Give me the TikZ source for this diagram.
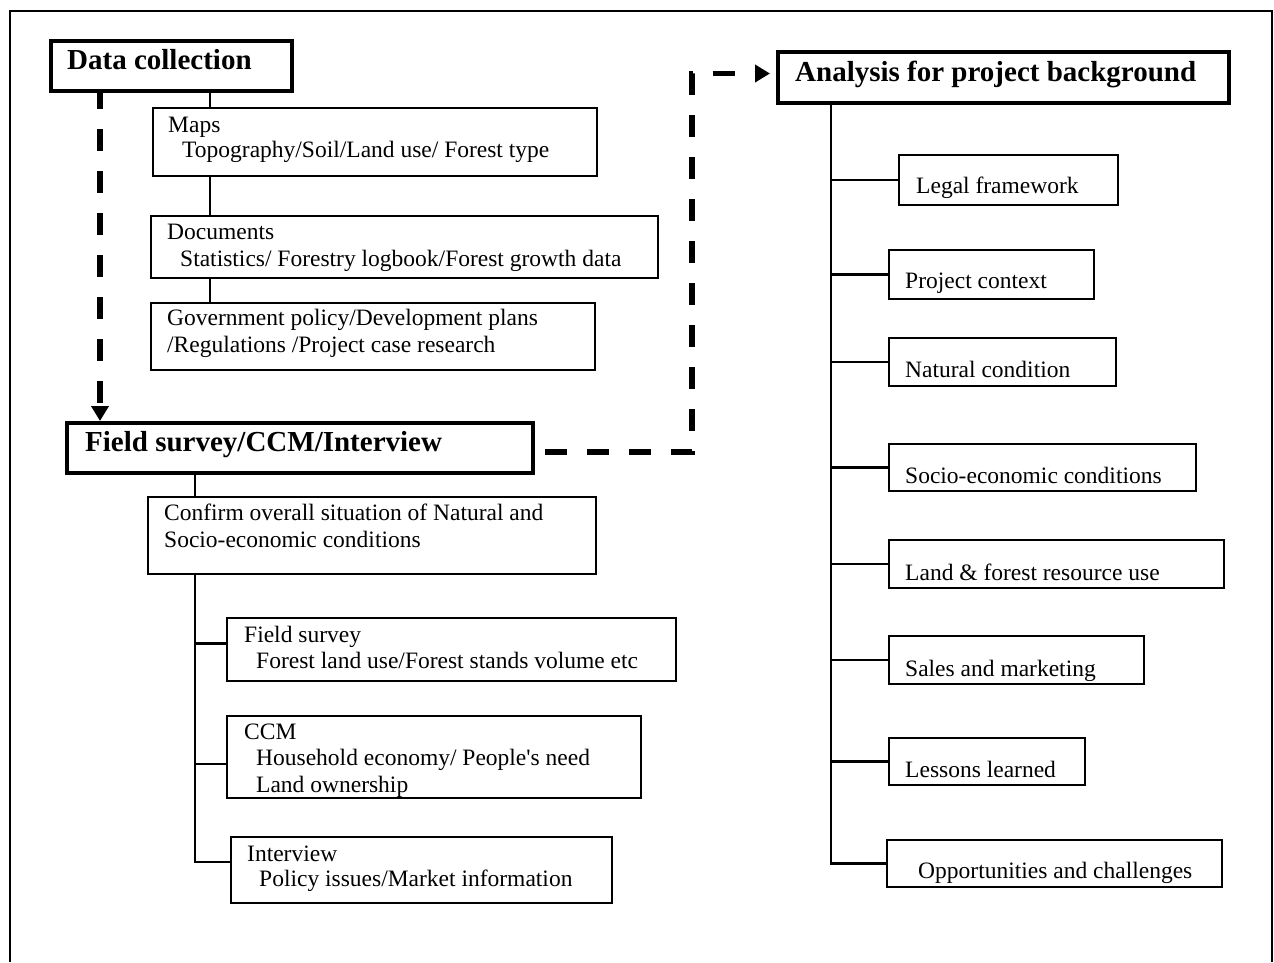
\documentclass[tikz,border=0pt]{standalone}
\usepackage{fontspec}
\setmainfont{Liberation Serif}
% same face without TeX ligatures, so ' stays a straight quote
\newfontfamily\plainserif{Liberation Serif}
\usetikzlibrary{arrows.meta}

% box with given top-left and bottom-right corners
\newcommand\mkpanel[6]{\node[#1, minimum width={#5-#3}, minimum height={#6-#4}] (#2) at (#3,#4) {};}

\begin{document}
\begin{tikzpicture}[x=1pt,y=-1pt,
  box/.style={draw, line width=1.9pt, rectangle, anchor=north west, inner sep=0pt},
  headbox/.style={draw, line width=4pt, rectangle, anchor=north west, inner sep=0pt},
  txt/.style={anchor=base west, inner sep=0pt, font=\plainserif\fontsize{23.5}{28}\selectfont},
  head/.style={anchor=base west, inner sep=0pt, font=\fontsize{29}{34}\selectfont\bfseries},
  link/.style={line width=2.1pt},
  flow/.style={line width=5.5pt, dash pattern=on 22pt off 20pt},
  tip/.style={-{Triangle[length=15pt,width=17pt]}},
]
\useasboundingbox (0,0) rectangle (1274,962);

% page frame (open at the bottom)
\draw[line width=1.5pt] (10,962) -- (10,11) -- (1272,11) -- (1272,962);

% ---------- data collection ----------
\mkpanel{headbox}{dc}{49}{39}{290}{89}
\node[head] (dcT) at (67,69) {Data collection};

\mkpanel{box}{maps}{152}{107}{596}{175}
\node[txt] (mapsA) at (168,132) {Maps};
\node[txt] (mapsB) at (182,157) {Topography/Soil/Land use/ Forest type};

\mkpanel{box}{docs}{150}{215}{657}{277}
\node[txt] (docsA) at (167,239) {Documents};
\node[txt] (docsB) at (180,266) {Statistics/ Forestry logbook/Forest growth data};

\mkpanel{box}{gov}{150}{302}{594}{369}
\node[txt] (govA) at (167,325) {Government policy/Development plans};
\node[txt] (govB) at (167,352) {/Regulations /Project case research};

% ---------- field survey ----------
\mkpanel{headbox}{fs}{65}{421}{531}{471}
\node[head] (fsT) at (85,451) {Field survey/CCM/Interview};

\mkpanel{box}{conf}{147}{496}{595}{573}
\node[txt] (confA) at (164,520) {Confirm overall situation of Natural and};
\node[txt] (confB) at (164,547) {Socio-economic conditions};

\mkpanel{box}{fsv}{226}{617}{675}{680}
\node[txt] (fsvA) at (244,642) {Field survey};
\node[txt] (fsvB) at (256,668) {Forest land use/Forest stands volume etc};

\mkpanel{box}{ccm}{226}{715}{640}{797}
\node[txt] (ccmA) at (244,739) {CCM};
\node[txt] (ccmB) at (256,765) {Household economy/ People's need};
\node[txt] (ccmC) at (256,792) {Land ownership};

\mkpanel{box}{intv}{230}{836}{611}{902}
\node[txt] (intvA) at (247,861) {Interview};
\node[txt] (intvB) at (259,886) {Policy issues/Market information};

% ---------- analysis ----------
\mkpanel{headbox}{an}{776}{50}{1227}{101}
\node[head] (anT) at (795,81) {Analysis for project background};

\mkpanel{box}{legal}{898}{154}{1117}{204}
\node[txt] (legalT) at (916,193) {Legal framework};
\mkpanel{box}{proj}{888}{249}{1093}{298}
\node[txt] (projT) at (905,288) {Project context};
\mkpanel{box}{nat}{888}{337}{1115}{385}
\node[txt] (natT) at (905,377) {Natural condition};
\mkpanel{box}{soc}{888}{443}{1195}{490}
\node[txt] (socT) at (905,483) {Socio-economic conditions};
\mkpanel{box}{land}{888}{539}{1223}{587}
\node[txt] (landT) at (905,580) {Land \& forest resource use};
\mkpanel{box}{sales}{888}{635}{1143}{683}
\node[txt] (salesT) at (905,676) {Sales and marketing};
\mkpanel{box}{less}{888}{737}{1084}{784}
\node[txt] (lessT) at (905,777) {Lessons learned};
\mkpanel{box}{opp}{886}{839}{1221}{886}
\node[txt] (oppT) at (918,878) {Opportunities and challenges};

% ---------- tree lines ----------
\coordinate (ltrunk) at (210,0);
\draw[link] (dc.south -| ltrunk) -- (maps.north -| ltrunk);
\draw[link] (maps.south -| ltrunk) -- (docs.north -| ltrunk);
\draw[link] (docs.south -| ltrunk) -- (gov.north -| ltrunk);

\coordinate (ftrunk) at (195,0);
\coordinate (fsvj) at ([yshift=6pt]fsv.west);
\coordinate (ccmj) at ([yshift=-7pt]ccm.west);
\coordinate (intvj) at ([yshift=8pt]intv.west);
\draw[link] (fs.south -| ftrunk) -- (conf.north -| ftrunk);
\draw[link] (conf.south -| ftrunk) |- (intvj);
\draw[link] (ftrunk |- fsvj) -- (fsvj);
\draw[link] (ftrunk |- ccmj) -- (ccmj);

\coordinate (rtrunk) at (831,0);
\draw[link] (an.south -| rtrunk) |- (opp.west);
\foreach \n in {legal,proj,nat,soc,land,sales,less}
  \draw[link] (rtrunk |- \n.west) -- (\n.west);

% ---------- dashed flow arrows ----------
\coordinate (dcol) at (100,0);
\draw[flow, dash phase=6pt, tip] (dc.south -| dcol) -- (fs.north -| dcol);

\coordinate (hstart) at ([xshift=10pt,yshift=-4pt]fs.east);
\coordinate (aend) at ([xshift=-6pt,yshift=4pt]an.west);
\coordinate (vturn) at (692,0);
\draw[flow, tip] (hstart) -| (vturn |- aend) -- (aend);

\end{tikzpicture}
\end{document}
